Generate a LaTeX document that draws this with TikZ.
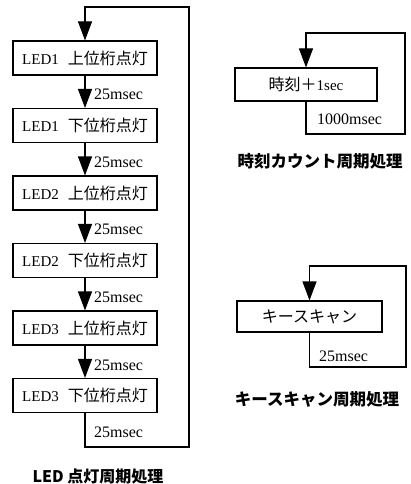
\documentclass[tikz,border=0pt]{standalone}
\usepackage{fontspec}
\setmainfont{Liberation Serif}
\newfontfamily\jp{Noto Sans CJK JP}
\usetikzlibrary{arrows.meta}
\begin{document}
\begin{tikzpicture}[x=1pt,y=-1pt,
  box/.style={draw, line width=1.1pt, minimum width=144pt, minimum height=34pt, inner sep=0pt, font=\fontsize{15}{18}\selectfont},
  arr/.style={-{Triangle[width=14pt,length=19pt]}, line width=1.1pt},
  lbl/.style={anchor=west, font=\fontsize{16}{18}\selectfont, inner sep=0pt},
  captxt/.style={font=\jp\bfseries\fontsize{16.5}{19}\selectfont, inner sep=0pt}]
\useasboundingbox (0,0) rectangle (411,484);
% left column
\node[box] (l1) at (85,58)    {LED1\hspace{0.6em}{\jp\fontsize{16}{18}\selectfont 上位桁点灯}};
\node[box] (l2) at (85,125.5) {LED1\hspace{0.6em}{\jp\fontsize{16}{18}\selectfont 下位桁点灯}};
\node[box] (l3) at (85,193)   {LED2\hspace{0.6em}{\jp\fontsize{16}{18}\selectfont 上位桁点灯}};
\node[box] (l4) at (85,260.5) {LED2\hspace{0.6em}{\jp\fontsize{16}{18}\selectfont 下位桁点灯}};
\node[box] (l5) at (85,328)   {LED3\hspace{0.6em}{\jp\fontsize{16}{18}\selectfont 上位桁点灯}};
\node[box] (l6) at (85,395.5) {LED3\hspace{0.6em}{\jp\fontsize{16}{18}\selectfont 下位桁点灯}};
\draw[arr] (l1.south) -- (l2.north);
\draw[arr] (l2.south) -- (l3.north);
\draw[arr] (l3.south) -- (l4.north);
\draw[arr] (l4.south) -- (l5.north);
\draw[arr] (l5.south) -- (l6.north);
\node[lbl] (t1) at (94,94)  {25msec};
\node[lbl] (t2) at (94,162) {25msec};
\node[lbl] (t3) at (94,229) {25msec};
\node[lbl] (t4) at (94,297) {25msec};
\node[lbl] (t5) at (94,365) {25msec};
\node[lbl] (t6) at (94,432) {25msec};
\coordinate (lc1) at (189,447);
\coordinate (lc2) at (189,7);
\draw[arr] (l6.south) |- (lc1) -- (lc2) -| (l1.north);
\node[captxt, font=\jp\bfseries\fontsize{16}{19}\selectfont] (c1) at (98,476) {LED 点灯周期処理};
% time count
\node[box, minimum width=142pt, minimum height=33pt] (ra) at (306,84.5) {{\jp\fontsize{16}{18}\selectfont 時刻＋}1sec};
\coordinate (a1) at (405,134);
\coordinate (a2) at (405,33);
\draw[arr] (ra.south) |- (a1) -- (a2) -| (ra.north);
\node[lbl] (ta) at (317,119) {1000msec};
\node[captxt] (c2) at (320,161) {時刻カウント周期処理};
% key scan
\node[box, minimum width=145pt, minimum height=31pt] (rb) at (309.5,316.5) {{\jp\fontsize{16}{18}\selectfont キースキャン}};
\coordinate (b1) at (406,367);
\coordinate (b2) at (406,266);
\draw[arr] (rb.south) |- (b1) -- (b2) -| (rb.north);
\node[lbl] (tb) at (319,356) {25msec};
\node[captxt] (c3) at (317,399) {キースキャン周期処理};
\end{tikzpicture}
\end{document}
